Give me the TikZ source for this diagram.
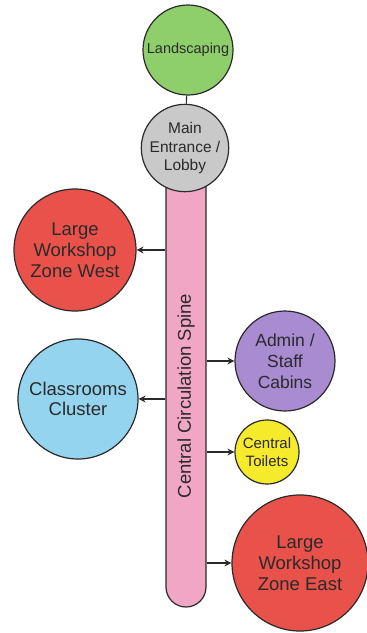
\documentclass[tikz,border=0pt]{standalone}
\usepackage{fontspec}
\setmainfont{Liberation Sans}
\usetikzlibrary{arrows.meta}
\definecolor{leaf}{HTML}{8FCF6B}
\definecolor{stone}{HTML}{C9C9C9}
\definecolor{brick}{HTML}{E9524B}
\definecolor{sky}{HTML}{95D4EF}
\definecolor{lilac}{HTML}{A98BD2}
\definecolor{lemon}{HTML}{F6EA2C}
\definecolor{blush}{HTML}{F2A6C5}
\definecolor{ink}{HTML}{2A2A2A}
\tikzset{zone/.style={circle,draw=ink,line width=1.2pt,align=center,inner sep=0pt,text=ink},
  link/.style={draw=ink,line width=1.1pt,-{Stealth[length=7pt,width=7pt]}}}
\newcommand{\fs}[2]{\fontsize{#1}{#2}\selectfont}

\begin{document}
\begin{tikzpicture}[x=1pt,y=-1pt]
\useasboundingbox (0,0) rectangle (367,633);
% the spine
\node[draw=ink,fill=blush,line width=1.2pt,rounded corners=20pt,minimum width=40pt,minimum height=457pt] (spine) at (186,378.5) {};
\node[rotate=90,text=ink,font=\fs{18.5}{21}] (spinelabel) at (186,396) {Central Circulation Spine};
% zones
\node[zone,fill=leaf,minimum size=90pt,font=\fs{14.5}{17}] (landscaping) at (188,50) {Landscaping};
\node[zone,fill=stone,minimum size=80pt,font=\fs{15.5}{18.5}] (lobby) at (185,148) {Main\\Entrance /\\Lobby};
\node[zone,fill=brick,minimum size=122pt,font=\fs{18.5}{21}] (westzone) at (75,250) {Large\\Workshop\\Zone West};
\node[zone,fill=sky,minimum size=120pt,font=\fs{18.5}{20}] (classrooms) at (78,399) {Classrooms\\Cluster};
\node[zone,fill=lilac,minimum size=100pt,font=\fs{17.5}{21}] (admin) at (285,361) {Admin /\\Staff\\Cabins};
\node[zone,fill=lemon,minimum size=64pt,font=\fs{15}{18}] (toilets) at (267,452) {Central\\Toilets};
\node[zone,fill=brick,minimum size=136pt,font=\fs{18.5}{21}] (eastzone) at (300,563) {Large\\Workshop\\Zone East};
% connectors
\draw[draw=ink,line width=1.1pt] (landscaping) -- (lobby);
\draw[link] (westzone -| spine.west) -- (westzone);
\draw[link] (classrooms -| spine.west) -- (classrooms);
\draw[link] (admin -| spine.east) -- (admin);
\draw[link] (toilets -| spine.east) -- (toilets);
\draw[link] (eastzone -| spine.east) -- (eastzone);
\end{tikzpicture}
\end{document}
